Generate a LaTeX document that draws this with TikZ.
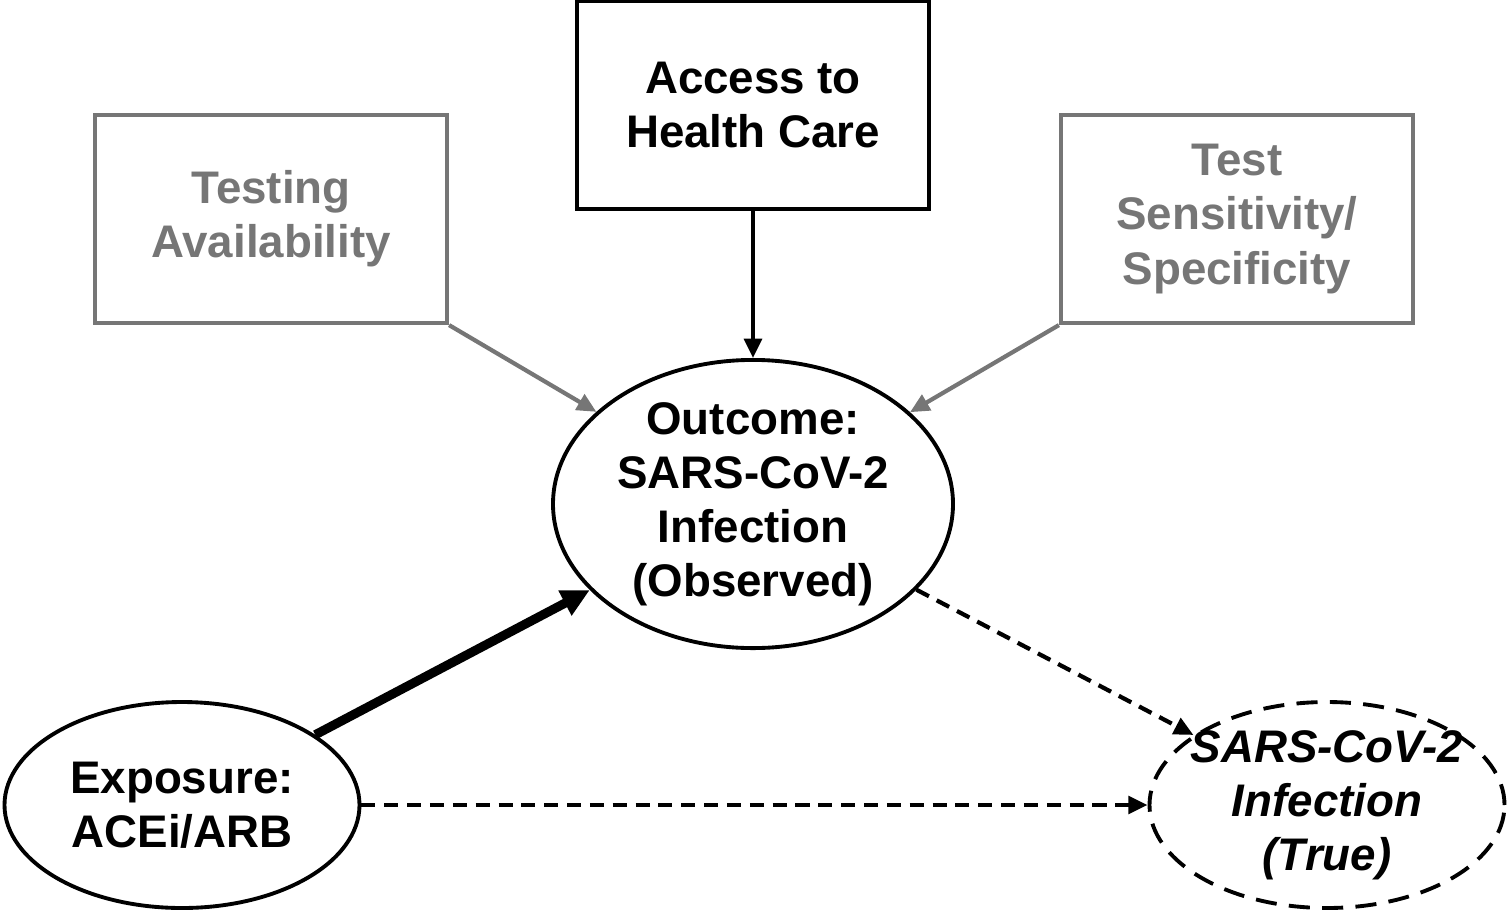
\documentclass[tikz,border=0pt]{standalone}
\usepackage{fontspec}
\setmainfont{Liberation Sans}
\usepackage{xcolor}
\usepackage{tikz}
\usetikzlibrary{shapes.geometric, arrows.meta, positioning}

\definecolor{boxgray}{HTML}{767676}

\begin{document}
\begin{tikzpicture}[
    font=\fontsize{13}{15.4}\selectfont\bfseries,
    box/.style={rectangle, draw, line width=1.2pt, minimum width=3.52cm, minimum height=2.08cm, align=center},
    graybox/.style={box, draw=boxgray, text=boxgray},
    oval/.style={ellipse, draw, line width=1.1pt, align=center, inner sep=0pt},
    arr/.style={-{Triangle[length=5.5pt,width=5pt]}, line width=1.2pt},
    dasharr/.style={arr, dash pattern=on 4pt off 2.5pt}
]
\useasboundingbox (0,0) rectangle (15.10,9.11);

\node[oval, minimum width=4.00cm, minimum height=2.84cm] (outcome) at (7.53,4.07) {Outcome:\\SARS-CoV-2\\Infection\\(Observed)};
\node[box, above=1.47cm of outcome] (access) {Access to\\Health Care};
\node[graybox] (testing) at (2.71,6.92) {Testing\\Availability};
\node[graybox] (sens) at (12.37,6.92) {Test\\Sensitivity/\\Specificity};
\node[oval, minimum width=3.55cm, minimum height=2.06cm] (exposure) at (1.82,1.06) {Exposure:\\ACEi/ARB};
\node[oval, dash pattern=on 6pt off 3.5pt, inner sep=-0.32cm, minimum width=3.55cm, minimum height=2.06cm, font=\fontsize{13}{15.4}\selectfont\bfseries\itshape] (true) at (13.27,1.06) {SARS-CoV-2\\Infection\\(True)};

\draw[arr] (access) -- (outcome);
\draw[arr, boxgray] (testing.south east) -- (outcome);
\draw[arr, boxgray] (sens.south west) -- (outcome);
\draw[-{Triangle[length=8pt,width=7.5pt]}, line width=2.6pt] (exposure) -- (outcome);
\draw[dasharr] (outcome) -- (true);
\draw[dasharr] (exposure.east) -- (true.west);
\end{tikzpicture}
\end{document}
